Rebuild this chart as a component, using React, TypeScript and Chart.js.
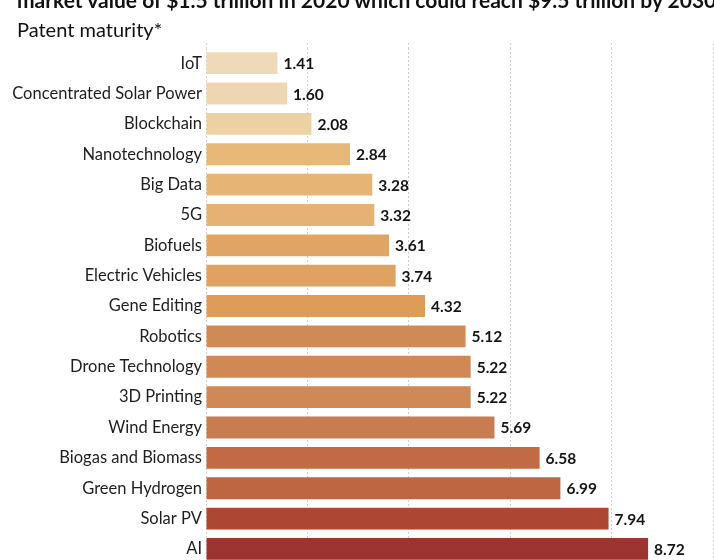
import React, { useEffect, useRef } from "react";
import { Chart, registerables } from "chart.js";

Chart.register(...registerables);

const titleLine = "market value of $1.5 trillion in 2020 which could reach $9.5 trillion by 2030";
const subtitleLine = "Patent maturity*";

const categories = [
  "IoT",
  "Concentrated Solar Power",
  "Blockchain",
  "Nanotechnology",
  "Big Data",
  "5G",
  "Biofuels",
  "Electric Vehicles",
  "Gene Editing",
  "Robotics",
  "Drone Technology",
  "3D Printing",
  "Wind Energy",
  "Biogas and Biomass",
  "Green Hydrogen",
  "Solar PV",
  "AI",
];

const values = [1.41, 1.6, 2.08, 2.84, 3.28, 3.32, 3.61, 3.74, 4.32, 5.12, 5.22, 5.22, 5.69, 6.58, 6.99, 7.94, 8.72];

const barColors = [
  "#eed9b9",
  "#edd6b1",
  "#ecd1a2",
  "#e7b877",
  "#e6b474",
  "#e5b273",
  "#e0a562",
  "#dfa261",
  "#dd9d58",
  "#d08a56",
  "#d08956",
  "#d08956",
  "#c97c4f",
  "#c26a43",
  "#be6641",
  "#ad4633",
  "#9d3431",
];

const xTicks = [0, 2, 4, 6, 8, 10];

const FONT = "Lato, 'Noto Sans', sans-serif";

const valueLabelPlugin = {
  id: "valueLabels",
  afterDatasetsDraw(chart: any) {
    const ctx = chart.ctx;
    const meta = chart.getDatasetMeta(0);
    ctx.save();
    ctx.font = `bold 15.5px ${FONT}`;
    ctx.fillStyle = "#151515";
    ctx.textAlign = "left";
    ctx.textBaseline = "middle";
    meta.data.forEach((bar: any, i: number) => {
      const v = chart.data.datasets[0].data[i] as number;
      ctx.fillText(v.toFixed(2), bar.x + 6, bar.y + 1);
    });
    ctx.restore();
  },
};

export default function App() {
  const ref = useRef<HTMLCanvasElement | null>(null);

  useEffect(() => {
    document.body.style.margin = "0";
    document.body.style.overflow = "hidden";
    const canvas = ref.current;
    if (!canvas) return;
    const chart = new Chart(canvas, {
      type: "bar",
      data: {
        labels: categories,
        datasets: [
          {
            data: values,
            backgroundColor: barColors,
            borderWidth: 0,
            categoryPercentage: 1,
            barPercentage: 0.72,
          },
        ],
      },
      options: {
        indexAxis: "y",
        animation: false,
        responsive: false,
        maintainAspectRatio: false,
        layout: { padding: { top: 43, right: 1, bottom: 0, left: 0 } },
        plugins: {
          legend: { display: false },
          tooltip: { enabled: false },
          title: { display: false },
        },
        scales: {
          x: {
            position: "top",
            min: xTicks[0],
            max: xTicks[xTicks.length - 1],
            afterBuildTicks: (scale: any) => {
              scale.ticks = xTicks.map((v) => ({ value: v }));
            },
            ticks: { display: false },
            grid: {
              color: "#cfcfcf",
              lineWidth: 1,
              drawTicks: true,
              tickLength: 5,
              tickColor: "#cfcfcf",
              tickBorderDash: [2, 2],
            },
            border: { display: false, dash: [2, 2] },
          } as any,
          y: {
            afterFit: (scale: any) => {
              scale.width = 206;
            },
            ticks: {
              font: { family: FONT, size: 16.5 },
              color: "#1e1e1e",
              padding: 4,
            },
            grid: { display: false, drawTicks: false },
            border: { display: false },
          },
        },
      } as any,
      plugins: [valueLabelPlugin],
    });
    return () => chart.destroy();
  }, []);

  return (
    <div style={{ position: "fixed", left: 0, top: 0, width: 714, height: 600, background: "#ffffff", overflow: "hidden" }}>
      <canvas ref={ref} width={714} height={578} style={{ position: "absolute", left: 0, top: 0, width: 714, height: 578 }} />
      <div
        style={{
          position: "absolute",
          left: 17,
          top: -10,
          fontFamily: FONT,
          fontWeight: 700,
          fontSize: 21,
          lineHeight: "20px",
          color: "#111",
          whiteSpace: "nowrap",
        }}
      >
        {titleLine}
      </div>
      <div
        style={{
          position: "absolute",
          left: 17,
          top: 18,
          fontFamily: FONT,
          fontWeight: 400,
          fontSize: 20,
          lineHeight: "22px",
          color: "#111",
          whiteSpace: "nowrap",
        }}
      >
        {subtitleLine}
      </div>
    </div>
  );
}
